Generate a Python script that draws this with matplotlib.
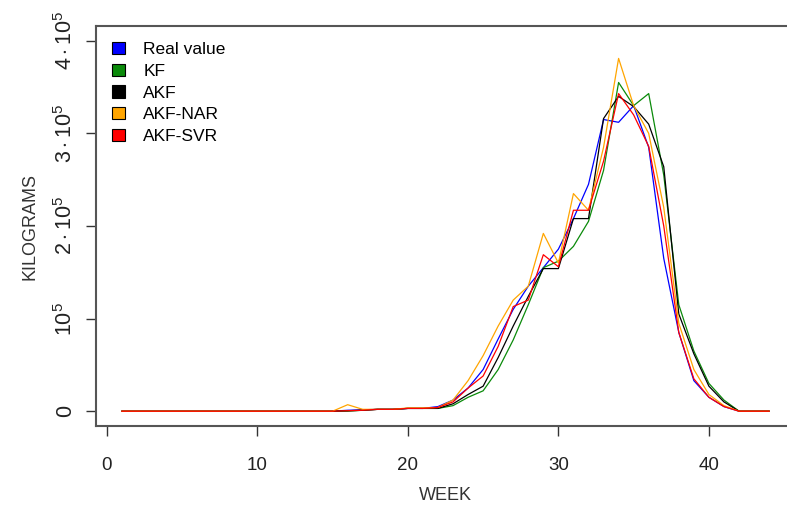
import matplotlib
matplotlib.use('Agg')
import matplotlib.pyplot as plt
from matplotlib.patches import Patch
import numpy as np

plt.rcParams['font.family'] = ['Liberation Sans Narrow', 'Liberation Sans', 'DejaVu Sans']
plt.rcParams['mathtext.fontset'] = 'custom'
plt.rcParams['mathtext.rm'] = 'Liberation Sans'
plt.rcParams['mathtext.it'] = 'Liberation Sans'

weeks = np.arange(1, 45)
zeros15 = [0.0] * 15
tail0 = [0.0, 0.0, 0.0]

# values in units of 10^5 kg, weeks 16..41, then 42..44 are zero
real = zeros15 + [0.01, 0.015, 0.02, 0.02, 0.03, 0.03, 0.05, 0.12, 0.25, 0.45, 0.78, 1.10, 1.35,
                  1.55, 1.75, 2.08, 2.45, 3.15, 3.12, 3.30, 2.85, 1.65, 0.85, 0.33, 0.15, 0.05] + tail0
kf = zeros15 + [0.0, 0.01, 0.02, 0.02, 0.03, 0.03, 0.03, 0.06, 0.15, 0.22, 0.45, 0.77, 1.15,
                1.55, 1.62, 1.78, 2.05, 2.60, 3.55, 3.30, 3.43, 2.55, 1.15, 0.65, 0.30, 0.12] + tail0
akf = zeros15 + [0.005, 0.01, 0.02, 0.02, 0.03, 0.03, 0.03, 0.08, 0.18, 0.27, 0.58, 0.92, 1.24,
                 1.54, 1.54, 2.08, 2.08, 3.16, 3.40, 3.29, 3.10, 2.64, 1.05, 0.62, 0.27, 0.10] + tail0
akf_nar = zeros15 + [0.07, 0.02, 0.02, 0.02, 0.035, 0.035, 0.04, 0.12, 0.33, 0.60, 0.92, 1.20, 1.35,
                     1.92, 1.60, 2.35, 2.17, 2.85, 3.81, 3.30, 3.00, 2.20, 0.95, 0.45, 0.18, 0.06] + tail0
akf_svr = zeros15 + [0.005, 0.01, 0.02, 0.02, 0.03, 0.03, 0.04, 0.10, 0.25, 0.38, 0.70, 1.13, 1.20,
                     1.69, 1.56, 2.17, 2.17, 2.70, 3.43, 3.20, 2.86, 2.00, 0.85, 0.35, 0.15, 0.05] + tail0

names = ['Real value', 'KF', 'AKF', 'AKF-NAR', 'AKF-SVR']
colors = ['#0000FF', '#0A8A0A', '#000000', '#FFA500', '#FF0000']
series = [real, kf, akf, akf_nar, akf_svr]

fig = plt.figure(figsize=(7.87, 5.11), dpi=100)
ax = fig.add_axes([96 / 787, 85 / 511, 699 / 787, 400 / 511])

for s, c in zip(series, colors):
    ax.plot(weeks, np.array(s) * 1e5, color=c, lw=0.9)

ax.set_xlim(-0.72, 45.72)
ax.set_ylim(-0.16e5, 4.16e5)

ax.set_xticks([0, 10, 20, 30, 40])
ax.set_yticks([0, 1e5, 2e5, 3e5, 4e5])
ax.set_yticklabels(['0', r'$10^5$', r'$2\cdot10^5$', r'$3\cdot10^5$', r'$4\cdot10^5$'],
                   rotation=90, va='center')
ax.tick_params(axis='both', direction='out', length=7, width=1, colors='#333333',
               labelsize=13.5, labelcolor='#222222')
ax.tick_params(axis='y', labelsize=15.5)
ax.tick_params(axis='x', pad=15)
ax.tick_params(axis='y', pad=7)

for sp in ax.spines.values():
    sp.set_color('#555555')
    sp.set_linewidth(1.5)

ax.set_xlabel('WEEK', fontsize=13, color='#333333', labelpad=10)
ax.set_ylabel('KILOGRAMS', fontsize=13, color='#333333', labelpad=11)

handles = [Patch(facecolor=c, edgecolor='black', lw=0.8) for c in colors]
ax.legend(handles, names, loc='upper left', bbox_to_anchor=(0.003, 0.995), frameon=False,
          fontsize=12.5, handlelength=0.75, handleheight=0.7, handletextpad=1.05,
          labelspacing=0.38, borderpad=0.3)

fig.savefig('out.png', dpi=100)
